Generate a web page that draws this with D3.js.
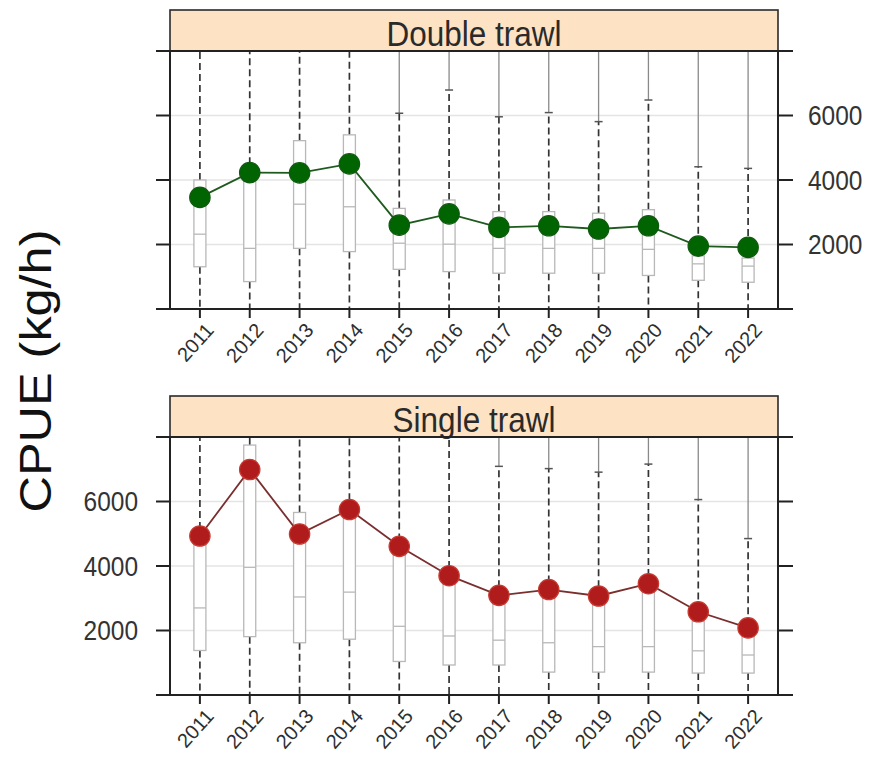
<!DOCTYPE html>
<html>
<head>
<meta charset="utf-8">
<script src="https://cdn.jsdelivr.net/npm/d3@7"></script>
<style>
  html, body { margin: 0; padding: 0; background: #fff; }
  svg { display: block; font-family: "Liberation Sans", Arial, sans-serif; }
</style>
</head>
<body>
<svg id="chart" width="871" height="767"></svg>
<script>
// ---------- data ----------
const years = ["2011","2012","2013","2014","2015","2016","2017","2018","2019","2020","2021","2022"];
const yTicks = [0, 2000, 4000, 6000, 8000];
const yTickLabels = ["", "2000", "4000", "6000", ""];

// Double trawl
const doubleMean = [3460, 4230, 4220, 4500, 2600, 2950, 2530, 2580, 2480, 2580, 1950, 1910];
const doubleQ1   = [1310,  850, 1880, 1780, 1230, 1160, 1110, 1110, 1110, 1040,  890,  830];
const doubleMed  = [2320, 1880, 3250, 3170, 2040, 2010, 1880, 1880, 1880, 1850, 1400, 1330];
const doubleQ3   = [4000, 4150, 5220, 5400, 3120, 3380, 3020, 3020, 2970, 3080, 1650, 1580];
const doubleLo   = [   0,    0,    0,    0,    0,    0,    0,    0,    0,    0,    0,    0];
const doubleHi   = [9000, 9000, 9000, 9000, 6070, 6790, 5960, 6090, 5810, 6480, 4410, 4360];

// Single trawl
const singleMean = [4930, 6990, 4990, 5750, 4610, 3700, 3090, 3270, 3070, 3450, 2580, 2080];
const singleQ1   = [1380, 1810, 1620, 1730, 1040,  930,  930,  710,  710,  710,  680,  680];
const singleMed  = [2700, 3960, 3040, 3190, 2130, 1830, 1700, 1620, 1500, 1500, 1370, 1240];
const singleQ3   = [5150, 7750, 5660, 5700, 4450, 3600, 3000, 3150, 3000, 3350, 2280, 1820];
const singleLo   = [   0,    0,    0,    0,    0,    0,    0,    0,    0,    0,    0,    0];
const singleHi   = [9000, 9000, 9000, 9000, 9000, 9000, 7090, 7020, 6910, 7160, 6060, 4850];

const panels = [
  { title: "Double trawl", mean: doubleMean, q1: doubleQ1, med: doubleMed, q3: doubleQ3, lo: doubleLo, hi: doubleHi,
    stripTop: 10, top: 51, bottom: 309, labelSide: "right",
    fill: "#006400", ring: "#0f5a0f", line: "#1e5a1e" },
  { title: "Single trawl", mean: singleMean, q1: singleQ1, med: singleMed, q3: singleQ3, lo: singleLo, hi: singleHi,
    stripTop: 396, top: 437, bottom: 695, labelSide: "left",
    fill: "#b01c1c", ring: "#c63a32", line: "#7a2e2e" }
];

// ---------- layout ----------
const left = 170, right = 778;
const stretch = 1.12; // text in the reference is slightly taller than wide
const svg = d3.select("#chart");

const x = d3.scaleLinear().domain([0.4, years.length + 0.6]).range([left, right]);
const xp = i => x(i + 1);

// y-axis title
svg.append("text")
  .attr("transform", `translate(51,371) rotate(-90) scale(${stretch},1)`)
  .attr("text-anchor", "middle")
  .attr("font-size", 45)
  .attr("fill", "#111")
  .text("CPUE (kg/h)");

panels.forEach((p, pi) => {
  const y = d3.scaleLinear().domain([0, 8000]).range([p.bottom, p.top]);
  const g = svg.append("g");
  const clipId = "clip" + pi;
  svg.append("clipPath").attr("id", clipId)
    .append("rect").attr("x", left).attr("y", p.top).attr("width", right - left).attr("height", p.bottom - p.top);

  const inner = g.append("g").attr("clip-path", `url(#${clipId})`);

  // grid
  inner.selectAll("line.grid").data(yTicks.slice(1, -1)).join("line")
    .attr("x1", left).attr("x2", right)
    .attr("y1", d => y(d)).attr("y2", d => y(d))
    .attr("stroke", "#e4e4e4").attr("stroke-width", 1.6);

  const idx = d3.range(years.length);

  // solid grey line from whisker cap up to top (beyond)
  inner.selectAll("line.above").data(idx.filter(i => p.hi[i] < 8000)).join("line")
    .attr("x1", i => xp(i)).attr("x2", i => xp(i))
    .attr("y1", i => y(p.hi[i])).attr("y2", p.top)
    .attr("stroke", "#8a8a8a").attr("stroke-width", 1.3);

  // dashed whiskers
  inner.selectAll("line.wup").data(idx).join("line")
    .attr("x1", i => xp(i)).attr("x2", i => xp(i))
    .attr("y1", i => y(p.q3[i])).attr("y2", i => y(Math.min(p.hi[i], 8200)))
    .attr("stroke", "#333").attr("stroke-width", 1.7).attr("stroke-dasharray", "7,4");
  inner.selectAll("line.wlo").data(idx).join("line")
    .attr("x1", i => xp(i)).attr("x2", i => xp(i))
    .attr("y1", i => y(p.q1[i])).attr("y2", i => y(p.lo[i]))
    .attr("stroke", "#333").attr("stroke-width", 1.7).attr("stroke-dasharray", "7,4");

  // caps
  inner.selectAll("line.cap").data(idx.filter(i => p.hi[i] < 8000)).join("line")
    .attr("x1", i => xp(i) - 4).attr("x2", i => xp(i) + 4)
    .attr("y1", i => y(p.hi[i])).attr("y2", i => y(p.hi[i]))
    .attr("stroke", "#555").attr("stroke-width", 1.5);

  // boxes
  inner.selectAll("rect.box").data(idx).join("rect")
    .attr("x", i => xp(i) - 6).attr("width", 12)
    .attr("y", i => y(p.q3[i])).attr("height", i => y(p.q1[i]) - y(p.q3[i]))
    .attr("fill", "#fff").attr("stroke", "#b8b8b8").attr("stroke-width", 1.3);
  inner.selectAll("line.med").data(idx).join("line")
    .attr("x1", i => xp(i) - 6).attr("x2", i => xp(i) + 6)
    .attr("y1", i => y(p.med[i])).attr("y2", i => y(p.med[i]))
    .attr("stroke", "#b8b8b8").attr("stroke-width", 1.3);

  // mean line + points
  inner.append("path").datum(idx)
    .attr("d", d3.line().x(i => xp(i)).y(i => y(p.mean[i])))
    .attr("fill", "none").attr("stroke", p.line).attr("stroke-width", 1.8);
  inner.selectAll("circle.pt").data(idx).join("circle")
    .attr("cx", i => xp(i)).attr("cy", i => y(p.mean[i])).attr("r", 10.2)
    .attr("fill", p.fill).attr("stroke", p.ring).attr("stroke-width", 1.2);

  // strip
  g.append("rect").attr("x", left).attr("y", p.stripTop).attr("width", right - left).attr("height", p.top - p.stripTop)
    .attr("fill", "#fde2c4").attr("stroke", "#2a2a2a").attr("stroke-width", 1.6);
  g.append("text")
    .attr("transform", `translate(${(left + right) / 2},${p.top - 5}) scale(1,${stretch})`)
    .attr("text-anchor", "middle").attr("font-size", 31.5).attr("fill", "#2a2a2a")
    .text(p.title);

  // frame
  g.append("rect").attr("x", left).attr("y", p.top).attr("width", right - left).attr("height", p.bottom - p.top)
    .attr("fill", "none").attr("stroke", "#222").attr("stroke-width", 2);

  // y ticks both sides
  g.selectAll("line.ytl").data(yTicks).join("line")
    .attr("x1", left - 14).attr("x2", left).attr("y1", d => y(d)).attr("y2", d => y(d))
    .attr("stroke", "#222").attr("stroke-width", 2);
  g.selectAll("line.ytr").data(yTicks).join("line")
    .attr("x1", right).attr("x2", right + 15).attr("y1", d => y(d)).attr("y2", d => y(d))
    .attr("stroke", "#222").attr("stroke-width", 2);
  g.selectAll("text.ylab").data(yTicks.map((d, k) => ({ v: d, t: yTickLabels[k] }))).join("text")
    .attr("transform", d => `translate(${p.labelSide === "right" ? right + 30 : left - 32},${y(d.v) + 9.5}) scale(1,${stretch})`)
    .attr("text-anchor", p.labelSide === "right" ? "start" : "end")
    .attr("font-size", 24.5).attr("fill", "#333")
    .text(d => d.t);

  // x ticks
  g.selectAll("line.xt").data(idx).join("line")
    .attr("x1", i => xp(i)).attr("x2", i => xp(i)).attr("y1", p.bottom).attr("y2", p.bottom + 9)
    .attr("stroke", "#222").attr("stroke-width", 2);
  g.selectAll("text.xlab").data(idx).join("text")
    .attr("transform", i => `translate(${xp(i) + 15},${p.bottom + 22}) rotate(-48)`)
    .attr("text-anchor", "end")
    .attr("font-size", 20).attr("fill", "#2e2e2e")
    .text(i => years[i]);
});
</script>
</body>
</html>
